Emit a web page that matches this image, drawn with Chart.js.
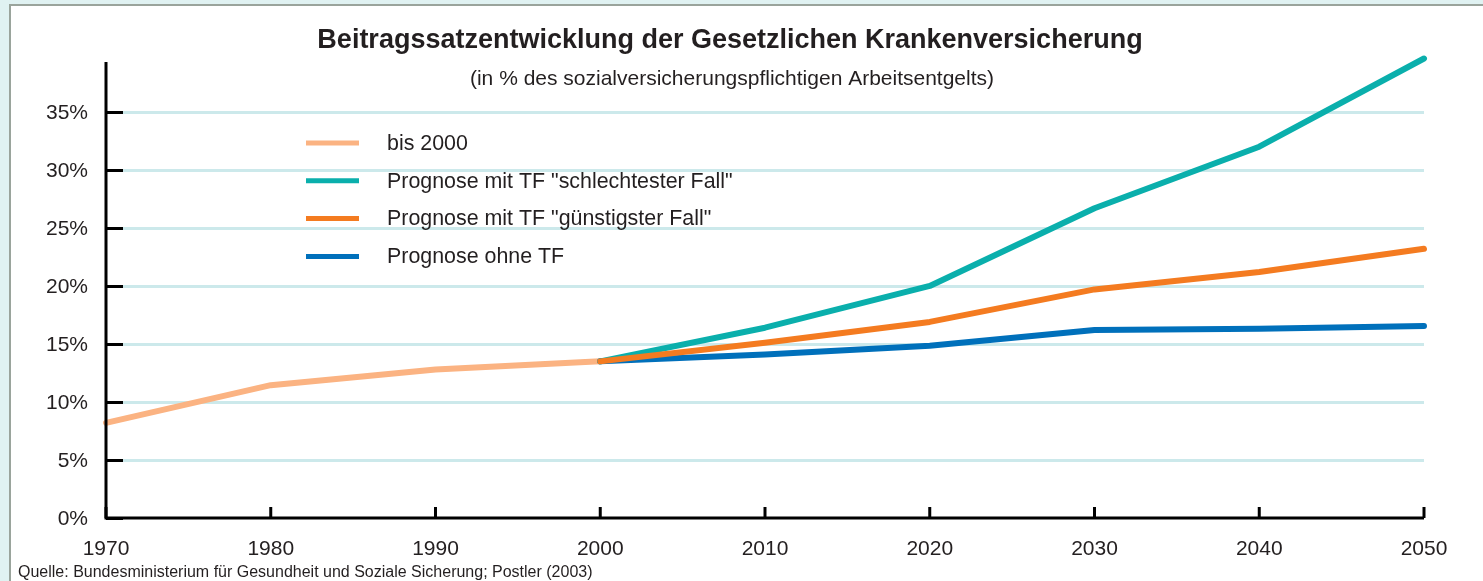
<!DOCTYPE html>
<html lang="de">
<head>
<meta charset="utf-8">
<title>Beitragssatzentwicklung der GKV</title>
<script src="https://cdn.jsdelivr.net/npm/chart.js@4.4.1/dist/chart.umd.min.js"></script>
<style>
    html, body { margin: 0; padding: 0; background: #e0f2f2; overflow: hidden; }
    .frame {
        position: absolute; left: 9px; top: 4px; width: 1500px; height: 620px;
        background: #fff; border: 2px solid #9aa49c;
    }
    #chart { position: absolute; left: 0; top: 0; }
</style>
</head>
<body>
<div class="frame"></div>
<canvas id="chart" width="1483" height="581"></canvas>
<script>
// Data
const years = ["1970", "1980", "1990", "2000", "2010", "2020", "2030", "2040", "2050"];
const bis2000 = [8.2, 11.45, 12.8, 13.5, null, null, null, null, null];
const worstCase = [null, null, null, 13.5, 16.4, 20.0, 26.7, 32.0, 39.6];
const bestCase = [null, null, null, 13.5, 15.1, 16.9, 19.7, 21.2, 23.2];
const withoutTF = [null, null, null, 13.5, 14.1, 14.85, 16.2, 16.3, 16.55];
const yTicks = [0, 5, 10, 15, 20, 25, 30, 35];

const FONT = "'Liberation Sans', Arial, sans-serif";
const TEXT = "#231f20";

// axes, grid, ticks, titles and legend drawn by hand so they match the original layout
const framePlugin = {
    id: "frame",
    beforeDatasetsDraw(chart) {
        const { ctx, chartArea: a, scales: { y } } = chart;
        ctx.save();
        ctx.strokeStyle = "#cce9eb";
        ctx.lineWidth = 3;
        yTicks.forEach(v => {
            if (v === 0) return;
            const py = Math.round(y.getPixelForValue(v)) + 0.5;
            ctx.beginPath();
            ctx.moveTo(a.left + 17, py);
            ctx.lineTo(a.right, py);
            ctx.stroke();
        });
        ctx.restore();
    },
    afterDatasetsDraw(chart) {
        const { ctx, chartArea: a, scales: { x, y } } = chart;
        ctx.save();

        // axis lines
        ctx.strokeStyle = "#000";
        ctx.lineWidth = 3;
        ctx.beginPath();
        ctx.moveTo(a.left, a.top);
        ctx.lineTo(a.left, a.bottom);
        ctx.lineTo(a.right, a.bottom);
        ctx.stroke();

        // y ticks (inward) + labels
        ctx.fillStyle = TEXT;
        ctx.font = "21px " + FONT;
        ctx.textAlign = "right";
        ctx.textBaseline = "middle";
        yTicks.forEach(v => {
            const py = Math.round(y.getPixelForValue(v)) + 0.5;
            ctx.beginPath();
            ctx.moveTo(a.left, py);
            ctx.lineTo(a.left + 17, py);
            ctx.stroke();
            ctx.fillText(v + "%", a.left - 18, py + 1);
        });

        // x ticks (upward) + labels
        ctx.textAlign = "center";
        years.forEach((lbl, i) => {
            const px = x.getPixelForValue(i);
            ctx.beginPath();
            ctx.moveTo(px, a.bottom);
            ctx.lineTo(px, a.bottom - 11);
            ctx.stroke();
            ctx.fillText(lbl, px, a.bottom + 31);
        });

        // title + subtitle
        ctx.font = "bold 27px " + FONT;
        ctx.fillText("Beitragssatzentwicklung der Gesetzlichen Krankenversicherung", 730, 41);
        ctx.font = "21px " + FONT;
        ctx.fillText("(in % des sozialversicherungspflichtigen Arbeitsentgelts)", 732, 79);

        // legend
        ctx.textAlign = "left";
        ctx.font = "21.4px " + FONT;
        chart.data.datasets.forEach((ds, i) => {
            const ly = 143 + i * 37.8;
            ctx.strokeStyle = ds.borderColor;
            ctx.lineWidth = 5;
            ctx.lineCap = "butt";
            ctx.beginPath();
            ctx.moveTo(306, ly);
            ctx.lineTo(359, ly);
            ctx.stroke();
            ctx.fillText(ds.label, 387, ly + 1);
        });

        // source
        ctx.font = "16px " + FONT;
        ctx.fillText("Quelle: Bundesministerium für Gesundheit und Soziale Sicherung; Postler (2003)", 18, 573);
        ctx.restore();
    }
};

const lineStyle = {
    borderWidth: 6,
    borderCapStyle: "round",
    borderJoinStyle: "round",
    pointRadius: 0,
    tension: 0,
    fill: false,
    spanGaps: false,
    clip: false
};

new Chart(document.getElementById("chart"), {
    type: "line",
    data: {
        labels: years,
        datasets: [
            { ...lineStyle, label: "bis 2000", data: bis2000, borderColor: "#fbb382", order: 4 },
            { ...lineStyle, label: 'Prognose mit TF "schlechtester Fall"', data: worstCase, borderColor: "#0aafac", order: 2 },
            { ...lineStyle, label: 'Prognose mit TF "günstigster Fall"', data: bestCase, borderColor: "#f47b20", order: 1 },
            { ...lineStyle, label: "Prognose ohne TF", data: withoutTF, borderColor: "#0070bb", order: 3 }
        ]
    },
    options: {
        responsive: false,
        animation: false,
        layout: { padding: { left: 106, right: 59, top: 62, bottom: 63 } },
        scales: {
            x: { type: "category", offset: false, display: false },
            y: { min: 0, max: 39.3, display: false }
        },
        plugins: {
            legend: { display: false },
            title: { display: false },
            tooltip: { enabled: false }
        }
    },
    plugins: [framePlugin]
});
</script>
</body>
</html>
